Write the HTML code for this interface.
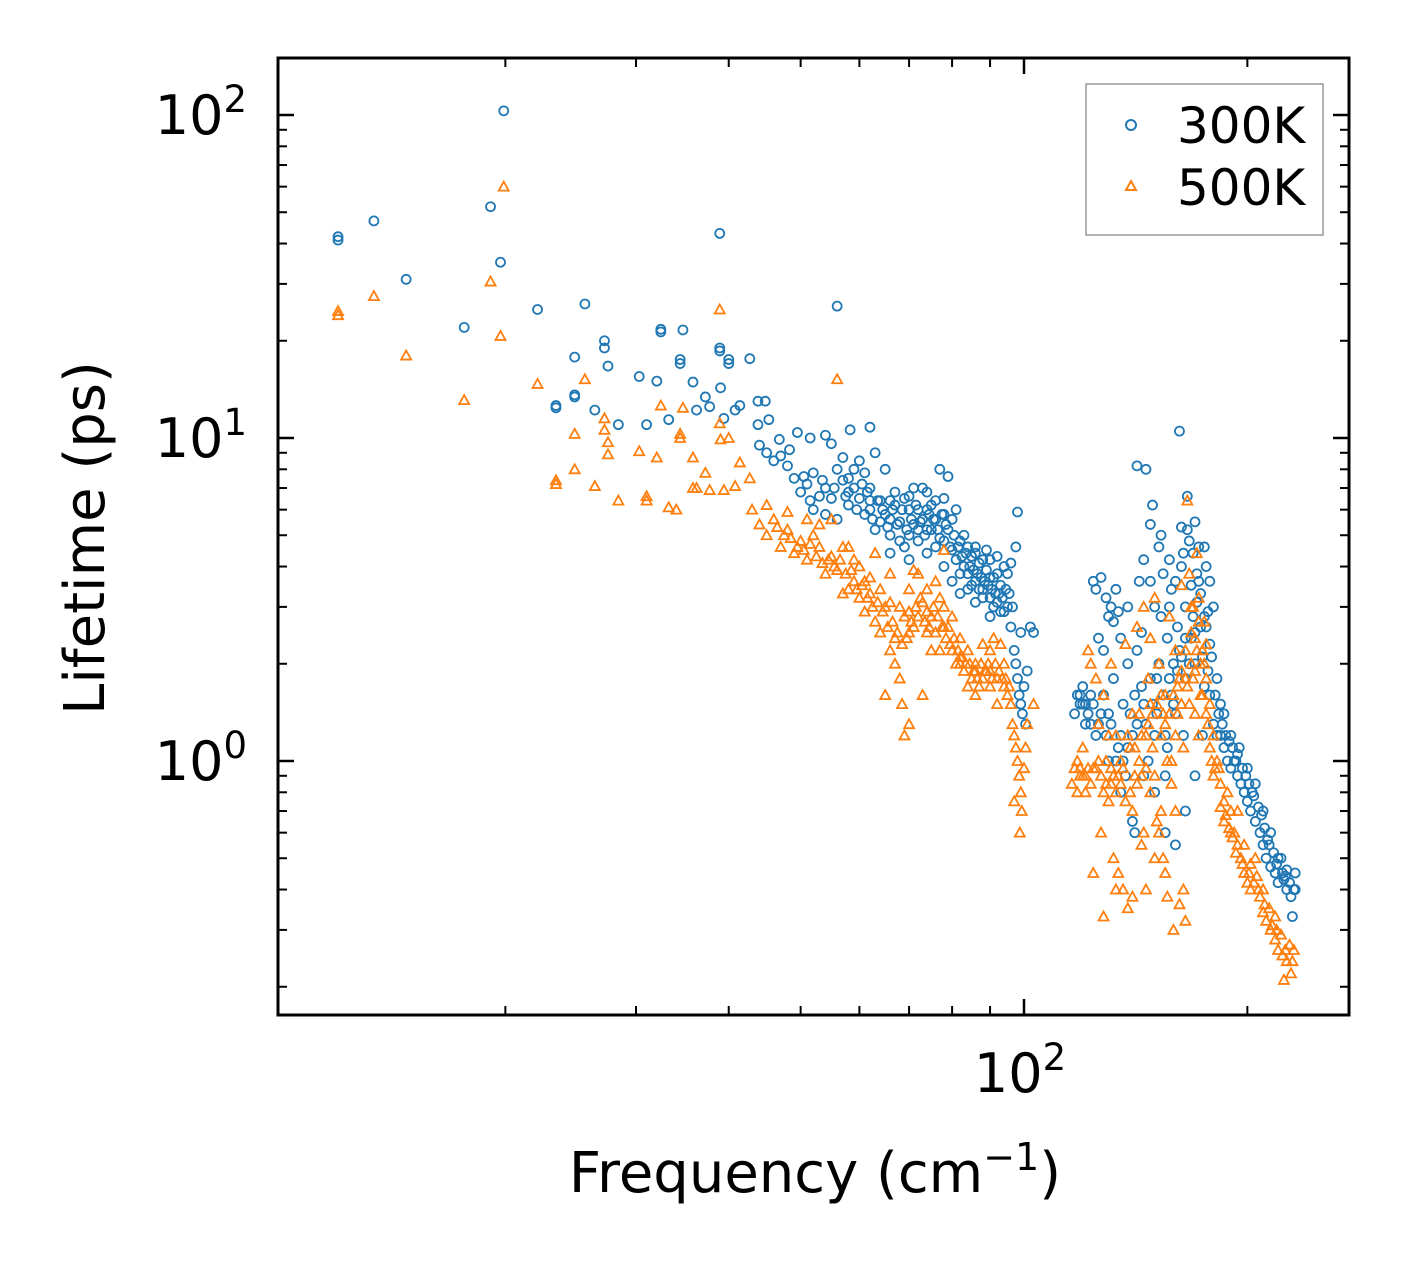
<!DOCTYPE html>
<html><head><meta charset="utf-8"><style>
html,body{margin:0;padding:0;background:#fff;}
svg{display:block;font-family:"DejaVu Sans","Liberation Sans",sans-serif;}
</style></head><body>
<svg id="chart" width="1408" height="1265" viewBox="0 0 1408 1265" xmlns="http://www.w3.org/2000/svg">
<rect width="1408" height="1265" fill="#fff"/>
<g id="marks"></g>
<g id="axes"></g>
<rect x="278" y="58" width="1071" height="957" fill="none" stroke="#000" stroke-width="3"/>
<text transform="translate(104,538) rotate(-90)" text-anchor="middle" font-size="56">Lifetime (ps)</text>
<text x="815" y="1192" text-anchor="middle" font-size="56">Frequency (cm<tspan dy="-22" font-size="38">−1</tspan><tspan dy="22">)</tspan></text>
<g>
<rect x="1086" y="84" width="237" height="151" fill="#fff" stroke="#999" stroke-width="1.5"/>
<circle cx="1131" cy="125" r="5" fill="none" stroke="#1f77b4" stroke-width="2"/>
<text x="1177" y="143" font-size="50">300K</text>
<path d="M1131,181 L1136,190 L1126,190 Z" fill="none" stroke="#ff7f0e" stroke-width="2"/>
<text x="1177" y="205" font-size="50">500K</text>
</g>
</svg>
<script>
const xTickValues=[100];
const xMinorValues=[20,30,40,50,60,70,80,90,200];
const yTickValues=[1,10,100];
const pts300=[[11.9,42],[11.9,41],[13.3,47],[14.7,31],[17.6,22],[19.1,52],[19.7,35],[19.9,103],[22.1,25],[24.8,17.8],[23.4,12.6],[23.4,12.4],[25.6,26],[27.2,20],[27.2,19],[27.5,16.7],[24.8,13.6],[24.8,13.4],[26.4,12.2],[28.4,11],[30.3,15.5],[31,11],[32,15],[32.4,21.7],[32.4,21.3],[33.2,11.4],[34.4,17.5],[34.4,17],[34.7,21.6],[35.8,14.9],[36.2,12.2],[37.2,13.4],[37.7,12.5],[38.9,43],[38.9,19],[38.9,18.6],[39,14.3],[39.4,11.5],[40,17.5],[40,17],[40.8,12.2],[41.4,12.6],[42.7,17.6],[43.8,13],[44.8,13],[56,25.6],[43.8,11],[45.3,11.4],[46.8,9.9],[48.3,9.2],[49.5,10.4],[51.5,10],[54,10.2],[58.3,10.6],[62,10.8],[142,8.2],[146,8],[162,10.5],
[44,9.5],[45,9],[46,8.5],[47,8.8],[48,8.2],[49,7.5],[50,6.8],[51,7.2],[52,7.8],[53,6.6],[54,7],[55,6.5],[56,8],[57,7.4],[58,6.2],[59,7],[60,6.5],[61,5.8],[62,6],[63,5.2],[64,5.5],[65,5.8],[66,5],[67,6.2],[68,5.5],[69,6.5],[70,5],[71,7],[72,6],[73,5.6],[74,6.8],[75,5.2],[76,6.4],[77,8],[77.5,5.8],[78,4.8],[79,5.2],[80,4.5],[81,4.2],[82,4.8],[83,4],[84,3.8],[85,4.3],[86,3.6],[87,4.1],[88,3.4],[89,3.9],[90,3.2],[91,3.7],[92,3.1],[93,3.5],[94,4],[95,3],[96,2.6],[97,2.2],[97.5,2],[98,1.8],[98.5,1.6],[99,1.5],[99.5,1.4],[100,1.7],[100.5,1.3],[101,1.9],[102,2.6],[103,2.5],[98,5.9],[97.5,4.6],[99,2.5],[96,4.1],
[52,6],[54,5.8],[56,5.6],[58,7.5],[60,8.5],[62,7],[64,6.4],[66,5.6],[68,4.8],[70,6],[72,4.8],[74,5.2],[76,4.6],[78,6.5],[80,5.6],[82,3.8],[84,4.6],[86,4.4],[88,3.2],[90,4.2],[92,3.8],[94,2.9],[63,9],[65,8],[67,6.8],[61,7.8],[55,9.6],[57,8.7],[59,8],[69,4.6],[71,5.4],[73,7],[75,6.2],[79,7.6],[81,6],[83,5],[85,3.5],[87,3.4],[89,4.5],[91,3],[93,2.9],[95,3.8],[66,4.4],[70,4.2],[74,4.4],[78,4],[82,3.3],[86,3.1],[90,2.8],[72,5.2],[76,5.6],[80,3.6],
[50.5,7.6],[51.5,6.4],[53.5,7.4],[55.5,7],[57.5,6.6],[59.5,6],[60.5,7.2],[61.5,6.8],[62.5,5.6],[63.5,6.4],[64.5,6],[65.5,5.3],[66.5,6],[67.5,5.4],[68.5,6],[69.5,5.2],[70.5,5.6],[71.5,6.2],[72.5,5.5],[73.5,5],[74.5,5.8],[75.5,5.6],[76.5,5.2],[77,4.9],[78.5,5.4],[79.5,4.6],[80.5,5],[81.5,4.6],[82.5,4.3],[83.5,4.4],[84.5,4],[85.5,3.9],[86.5,3.8],[87.5,3.7],[88.5,3.6],[89.5,3.5],[90.5,3.4],[91.5,3.3],[92.5,3.3],[93.5,3.2],[94.5,3.4],[95.5,3.3],[96.5,3],[84,3.4],[86,4.6],[88,4.2],[90,3.7],[92,4.3],[78,5.8],[74,6],[70,6.6],[66,6.4],[62,6.4],[58,6.8],
[117,1.4],[118,1.6],[119,1.5],[120,1.7],[121,1.3],[122,1.4],[123,1.6],[124,3.6],[125,3.4],[126,2.4],[127,3.7],[128,2.2],[129,3.2],[130,2.8],[131,3],[132,2.7],[133,3.4],[134,2.9],[135,1.2],[136,1.5],[137,0.9],[138,1.1],[140,0.65],[141,0.6],[143,3.6],[144,2.5],[145,4.2],[147,1],[148,5.4],[149,6.2],[150,3],[151,1.8],[152,4.6],[153,5],[154,3.8],[155,1.2],[156,2.4],[157,4.2],[158,3.4],[159,2],[160,3.6],[161,2.6],[163,5.3],[164,4.4],[165,3],[166,6.6],[167,4.8],[168,3.5],[169,4.4],[170,2.5],[171,3.8],[172,4.6],[173,3.3],[174,2.1],[175,1.7],[176,2.6],[177,1.9],[178,1.6],[180,1.3],[182,1.2],[184,1.5],[186,1.1],[188,1],[190,0.95],[192,1],[194,0.9],[196,0.85],[198,0.8],[200,0.75],[202,0.7],[205,0.65],[208,0.6],[210,0.55],[212,0.5],[215,0.47],[218,0.45],[220,0.42],[223,0.45],[226,0.4],[229,0.38],[231,0.4],[232,0.45],
[125,1.2],[130,1],[135,0.8],[140,1.2],[145,1.5],[150,1.2],[155,0.9],[160,1.4],[165,1.8],[170,2],[175,2.8],[180,3],[130,1.4],[128,1.6],[132,1.8],[138,2],[142,2.2],[148,1.8],[152,2],[158,1.6],[162,2.2],[168,2.4],[172,3.6],[176,4],[178,2.3],[182,1.8],[186,1.4],[190,1.2],[195,1.1],[200,0.95],[205,0.85],[210,0.7],[215,0.6],[220,0.5],[226,0.46],[232,0.4],[230,0.33],[145,0.9],[150,0.8],[155,0.6],[160,0.55],[165,0.7],[170,0.9],[174,1.2],[135,2.4],[138,3],[148,3.6],[153,2.8],[157,3],[163,4],[166,5.2],[170,5.5],[175,4.6],[120,1.5],[126,1.3],[134,1.1],[142,1.3],[156,1.1],[164,1.2],[178,3.6],[184,1.2],[194,1.05],[204,0.78],[214,0.55],[224,0.43],
[119,1.6],[121,1.5],[123,1.3],[124,1.5],[127,1.4],[129,1.2],[131,1.3],[133,1.0],[136,1.0],[139,1.4],[141,1.6],[144,1.7],[146,1.3],[149,1.5],[151,1.4],[154,1.6],[157,1.8],[159,1.5],[161,1.9],[163,2.1],[165,2.4],[167,2.0],[169,2.8],[171,3.1],[173,2.6],[177,2.9],[179,2.1],[181,1.6],[183,1.4],[185,1.3],[187,1.2],[189,1.15],[191,1.1],[193,1.0],[197,0.95],[199,0.9],[201,0.85],[203,0.8],[207,0.72],[209,0.68],[211,0.62],[213,0.57],[217,0.52],[219,0.48],[222,0.5],[225,0.44],[228,0.42]];
const pts500=[[11.9,24.7],[11.9,24],[13.3,27.5],[14.7,18],[17.6,13.1],[19.1,30.5],[19.7,20.7],[19.9,60],[22.1,14.7],[23.4,7.4],[23.4,7.2],[24.8,10.3],[24.8,8],[25.6,15.2],[26.4,7.1],[27.2,11.5],[27.2,10.6],[27.5,8.9],[27.5,9.7],[28.4,6.4],[30.3,9.1],[31,6.6],[31,6.4],[32,8.7],[32.4,12.6],[33.2,6.1],[34,6],[34.4,10.3],[34.4,10],[34.7,12.4],[35.8,8.7],[35.8,7],[36.2,7],[37.2,7.8],[37.7,6.9],[38.9,25],[38.9,11.1],[39,9.9],[39.4,6.9],[40,10],[40.8,7.1],[41.4,8.4],[42.7,7.5],[56,15.2],
[43,6],[44,5.4],[45,5],[46,5.6],[47,4.6],[48,5.2],[49,4.4],[50,4.8],[51,4.2],[52,5],[53,4.6],[54,3.8],[55,4.3],[56,3.9],[57,4.6],[58,3.4],[59,3.6],[60,3.2],[61,2.9],[62,3.3],[63,2.7],[64,2.5],[65,3],[66,2.2],[67,2],[68,1.8],[68.5,1.5],[69,2.8],[70,3.4],[71,2.6],[72,3.8],[73,3.1],[74,2.5],[75,2.8],[76,3.6],[77,2.2],[78,4.5],[79,2.6],[80,2.2],[81,2],[82,2.4],[83,1.9],[84,2.2],[85,1.8],[86,2],[87,1.7],[88,2.3],[89,1.9],[90,1.7],[91,2.4],[92,1.8],[93,2.3],[94,2],[95,1.6],[96,1.5],[96.5,1.3],[97,1.2],[97.5,1.1],[98,1],[98.5,0.9],[99,0.8],[99.3,0.7],[98.7,0.6],[100,0.95],[100.5,1.1],[103,1.5],[101,1.3],[70,1.3],[69,1.2],[73,1.6],[65,1.6],[67,2.4],[55,5.6],[58,4.6],[60,4],[62,3.7],[64,3.4],[66,3.8],[68,3],[70,2.5],[72,2.8],[74,3.4],[76,2.5],[78,3],[80,2.8],[82,2],[84,1.7],[86,1.6],[88,1.8],[90,2.2],[92,1.5],[94,1.7],[63,4.4],[61,3.6],[59,4.2],[57,3.3],[53,5.4],[51,5.6],[77,3.2],[75,2.2],[71,3.9],[97,0.75],[66,3.1],[70,2.9],[74,2.9],[78,2.6],[82,2.1],[86,1.9],[90,1.9],[45,6.2],[48,5.9],
[46.5,5.3],[47.5,5],[48.5,4.9],[49.5,4.6],[50.5,4.5],[51.5,4.7],[52.5,4.3],[53.5,4.1],[54.5,4.2],[55.5,4],[56.5,4.2],[57.5,3.8],[58.5,3.9],[59.5,3.4],[60.5,3.5],[61.5,3.2],[62.5,3],[63.5,3.1],[64.5,2.9],[65.5,2.6],[66.5,2.7],[67.5,2.5],[68.5,2.3],[69.5,2.4],[70.5,2.7],[71.5,3],[72.5,3.2],[73.5,2.7],[74.5,2.6],[75.5,3],[76.5,2.8],[77.5,2.6],[78.5,2.4],[79.5,2.3],[80.5,2.4],[81.5,2.2],[82.5,2.1],[83.5,2],[84.5,2],[85.5,1.9],[86.5,1.8],[87.5,2],[88.5,1.9],[89.5,2],[90.5,1.8],[91.5,2],[92.5,1.9],[93.5,1.8],[94.5,1.8],[95.5,1.7],
[116,0.85],[117,0.95],[118,1],[119,0.9],[120,1.1],[121,0.8],[122,2.2],[123,2],[124,0.45],[125,1.8],[126,1.3],[127,0.6],[128,1.6],[129,1],[130,0.75],[131,2],[132,0.5],[133,1.2],[134,0.45],[135,0.85],[136,0.4],[137,2.3],[138,0.35],[139,1.1],[140,0.7],[141,0.9],[142,2.6],[143,1.4],[144,0.55],[145,3],[146,0.4],[147,1.8],[148,2.4],[149,1.1],[150,3.2],[151,0.65],[152,2],[153,1.2],[154,0.5],[155,1.6],[156,0.38],[157,2.8],[158,1],[159,0.3],[160,2.2],[161,1.4],[162,0.36],[163,3.5],[164,0.4],[165,1.8],[166,6.4],[167,3.8],[168,2.5],[169,3],[170,1.9],[171,4.4],[172,2.7],[173,2],[174,1.6],[175,2.7],[176,1.4],[178,1.1],[180,0.9],[182,1],[184,0.85],[186,0.75],[188,0.8],[190,0.7],[192,0.6],[194,0.55],[196,0.5],[198,0.45],[200,0.42],[202,0.4],[205,0.5],[208,0.38],[210,0.34],[212,0.32],[215,0.3],[218,0.28],[220,0.26],[223,0.25],[226,0.24],[229,0.22],[231,0.26],[224,0.21],
[118,0.8],[120,0.9],[124,0.95],[126,1],[128,0.8],[130,1.2],[132,0.9],[135,1],[138,1.2],[140,1.4],[143,1],[146,1.2],[148,0.8],[150,0.9],[153,0.7],[156,1],[160,1.2],[163,1.5],[166,1.7],[168,2],[170,1.4],[172,1.2],[174,2.2],[176,1.8],[178,1.5],[180,1.2],[183,0.95],[186,0.65],[190,0.6],[194,0.7],[198,0.55],[202,0.48],[206,0.44],[210,0.4],[214,0.35],[218,0.33],[222,0.29],[228,0.27],[145,0.6],[150,0.5],[155,0.45],[160,0.7],[165,0.32],[140,0.38],[133,0.4],[128,0.33],[122,0.95],[131,0.85],[137,0.75],[144,0.9],[152,0.6],[158,0.85],[164,1.1],[170,2.4],[172,3.2],[176,2.3],[168,3],[162,1.8],[154,1.4],[148,1.5],
[119,0.95],[121,0.9],[123,0.85],[125,0.95],[127,0.9],[129,0.85],[131,0.95],[133,0.8],[134,0.9],[136,0.95],[139,0.8],[141,1.1],[142,0.85],[144,1.2],[146,0.95],[147,1.3],[149,1.4],[151,1.5],[153,1.6],[155,1.3],[157,1.4],[159,1.6],[161,1.7],[163,1.9],[165,2.2],[167,1.5],[169,1.8],[171,2.2],[173,1.6],[175,2.0],[177,1.3],[179,1.0],[181,0.95],[184,0.72],[187,0.68],[189,0.62],[191,0.58],[193,0.52],[197,0.48],[201,0.45],[204,0.42],[207,0.4],[211,0.36],[216,0.31],[219,0.3],[225,0.26],[230,0.24]];

const X0=278,X1=1349,Y0=58,Y1=1015;
const xScale=v=>1024+742*(Math.log10(v)-2);
const yScale=v=>761-323*Math.log10(v);
const NS='http://www.w3.org/2000/svg';
const marks=document.getElementById('marks');
const axes=document.getElementById('axes');
function mk(tag,attrs,parent){const e=document.createElementNS(NS,tag);for(const k in attrs)e.setAttribute(k,attrs[k]);parent.appendChild(e);return e;}

pts300.forEach(p=>{
  const c=mk('circle',{cx:xScale(p[0]),cy:yScale(p[1]),r:4.5,fill:'none',stroke:'#1f77b4','stroke-width':1.8},marks);
  
  
});
pts500.forEach(p=>{
  const x=xScale(p[0]),y=yScale(p[1]);
  const t=mk('path',{d:`M${x},${y-5} L${x+5},${y+4} L${x-5},${y+4} Z`,fill:'none',stroke:'#ff7f0e','stroke-width':1.8},marks);
  
  
});

xTickValues.forEach(v=>{
  const x=xScale(v);
  mk('line',{x1:x,x2:x,y1:Y1,y2:Y1-16,stroke:'#000','stroke-width':2.5},axes);
  mk('line',{x1:x,x2:x,y1:Y0,y2:Y0+16,stroke:'#000','stroke-width':2.5},axes);
  const t=mk('text',{x:x-4,y:1092,'text-anchor':'middle','font-size':54},axes);
  
  
  t.innerHTML='10<tspan dy="-22" font-size="37">'+Math.round(Math.log10(v))+'</tspan>';
});
xMinorValues.forEach(v=>{
  const x=xScale(v);
  mk('line',{x1:x,x2:x,y1:Y1,y2:Y1-9,stroke:'#000','stroke-width':2},axes);
  mk('line',{x1:x,x2:x,y1:Y0,y2:Y0+9,stroke:'#000','stroke-width':2},axes);
});
yTickValues.forEach(v=>{
  const y=yScale(v);
  mk('line',{x1:X0,x2:X0+16,y1:y,y2:y,stroke:'#000','stroke-width':2.5},axes);
  mk('line',{x1:X1,x2:X1-16,y1:y,y2:y,stroke:'#000','stroke-width':2.5},axes);
  const t=mk('text',{x:247,y:y+19,'text-anchor':'end','font-size':54},axes);
  
  
  t.innerHTML='10<tspan dy="-22" font-size="37">'+Math.round(Math.log10(v))+'</tspan>';
});
[0.1,1,10,100].forEach(d=>{for(let m=2;m<=9;m++){const v=d*m;const y=yScale(v);if(y<Y0||y>Y1)continue;
  mk('line',{x1:X0,x2:X0+9,y1:y,y2:y,stroke:'#000','stroke-width':2},axes);
  mk('line',{x1:X1,x2:X1-9,y1:y,y2:y,stroke:'#000','stroke-width':2},axes);}});
</script>
</body></html>
